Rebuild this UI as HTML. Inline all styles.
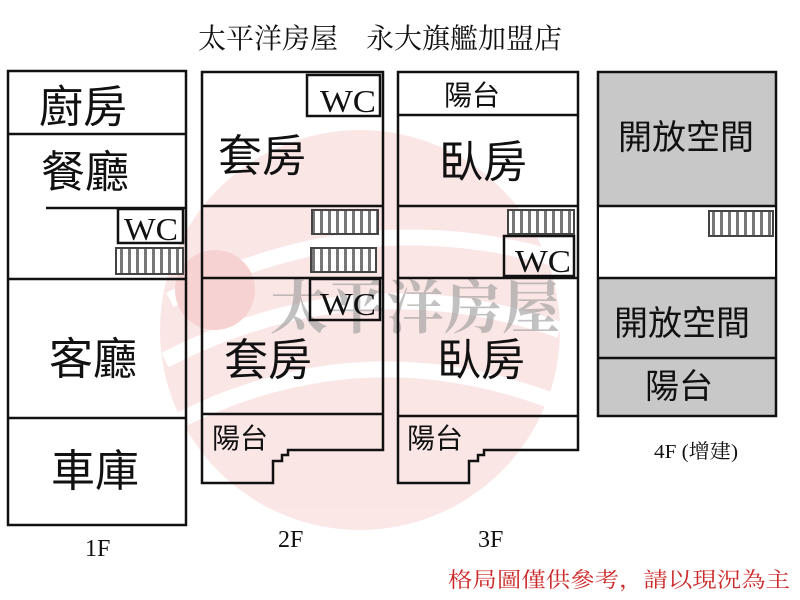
<!DOCTYPE html>
<html><head><meta charset="utf-8"><style>
html,body{margin:0;padding:0;background:#fff;width:800px;height:600px;overflow:hidden}
svg text{font-family:"Liberation Sans","Noto Sans CJK TC",sans-serif;fill:#111}
.s{font-family:"Liberation Serif","Noto Serif CJK SC",serif}
</style></head><body>
<svg width="800" height="600" viewBox="0 0 800 600" xmlns="http://www.w3.org/2000/svg">
<defs>
<pattern id="st" width="8" height="30" patternUnits="userSpaceOnUse">
<rect width="8" height="30" fill="#fff"/><rect width="3" height="30" fill="#777"/>
</pattern>
</defs>
<g opacity="0.25">
<circle cx="360" cy="330" r="200" fill="#f2a0a0"/>
<path d="M170 300 Q360 200 560 260" stroke="#fff" stroke-width="16" fill="none"/>
<path d="M165 360 Q360 260 560 330" stroke="#fff" stroke-width="16" fill="none"/>
<path d="M180 420 Q360 330 550 400" stroke="#fff" stroke-width="16" fill="none"/>
<circle cx="215" cy="290" r="40" fill="#e05050"/>
</g>
<text x="270" y="328" font-size="58" style="fill:#999;opacity:.6" class="s" font-weight="bold">太平洋房屋</text>

<text x="198" y="48" font-size="28" class="s" textLength="364" lengthAdjust="spacing">太平洋房屋　永大旗艦加盟店</text>

<g fill="none" stroke="#111" stroke-width="2.5">
<rect x="8" y="71" width="178" height="454"/>
<line x1="8" y1="134" x2="186" y2="134"/>
<line x1="46" y1="208" x2="186" y2="208"/>
<rect x="118" y="209" width="65" height="34"/>
<line x1="8" y1="279" x2="186" y2="279"/>
<line x1="8" y1="418" x2="186" y2="418"/>
<path d="M202 483 L202 72 L383 72 L383 450 L288 450 L288 455 L282 455 L282 461 L273 461 L273 483 Z"/>
<rect x="307" y="75" width="73" height="41"/>
<line x1="202" y1="206" x2="383" y2="206"/>
<line x1="202" y1="278" x2="383" y2="278"/>
<rect x="310" y="279" width="70" height="41"/>
<line x1="202" y1="414" x2="383" y2="414"/>
<path d="M398 483 L398 72 L578 72 L578 450 L484 450 L484 455 L478 455 L478 461 L469 461 L469 483 Z"/>
<line x1="398" y1="115" x2="578" y2="115"/>
<line x1="398" y1="206" x2="578" y2="206"/>
<rect x="504" y="236" width="70" height="40"/>
<line x1="398" y1="278" x2="578" y2="278"/>
<line x1="398" y1="416" x2="578" y2="416"/>
<rect x="598" y="72" width="178" height="344" fill="#c8c8c8"/>
<rect x="599" y="206" width="176" height="72" fill="#fff" stroke="none"/>
<line x1="598" y1="206" x2="776" y2="206"/>
<line x1="598" y1="278" x2="776" y2="278"/>
<line x1="598" y1="358" x2="776" y2="358"/>
</g>
<g stroke="#444" stroke-width="2">
<rect x="116" y="248" width="67" height="26" fill="url(#st)"/>
<rect x="312" y="210" width="66" height="24" fill="url(#st)"/>
<rect x="311" y="248" width="65" height="24" fill="url(#st)"/>
<rect x="508" y="210" width="66" height="24" fill="url(#st)"/>
<rect x="709" y="211" width="64" height="25" fill="url(#st)"/>
</g>
<g font-size="44">
<text x="39" y="122">廚房</text>
<text x="41" y="187">餐廳</text>
<text x="49" y="374">客廳</text>
<text x="51" y="486">車庫</text>
<text x="218" y="171">套房</text>
<text x="224" y="375">套房</text>
<text x="439" y="177">臥房</text>
<text x="437" y="375">臥房</text>
<text x="618" y="149" font-size="34">開放空間</text>
<text x="614" y="335" font-size="34">開放空間</text>
<text x="645" y="398" font-size="34">陽台</text>
</g>
<g font-size="28">
<text x="444" y="105">陽台</text>
<text x="212" y="448">陽台</text>
<text x="407" y="448">陽台</text>
</g>
<g font-size="32">
<text x="124" y="240" class="s" textLength="54" lengthAdjust="spacingAndGlyphs">WC</text>
<text x="320" y="112" class="s" textLength="56" lengthAdjust="spacingAndGlyphs">WC</text>
<text x="320" y="315" class="s" textLength="56" lengthAdjust="spacingAndGlyphs">WC</text>
<text x="515" y="272" class="s" textLength="56" lengthAdjust="spacingAndGlyphs">WC</text>
</g>
<g font-size="24">
<text x="85" y="556" class="s">1F</text>
<text x="278" y="547" class="s">2F</text>
<text x="478" y="547" class="s">3F</text>
<text x="654" y="458" class="s" font-size="20" textLength="84" lengthAdjust="spacingAndGlyphs">4F (增建)</text>
</g>
<text x="448" y="587" font-size="21" style="fill:#cc2a2a" class="s" textLength="342" lengthAdjust="spacingAndGlyphs">格局圖僅供參考，請以現況為主</text>
</svg>
</body></html>
